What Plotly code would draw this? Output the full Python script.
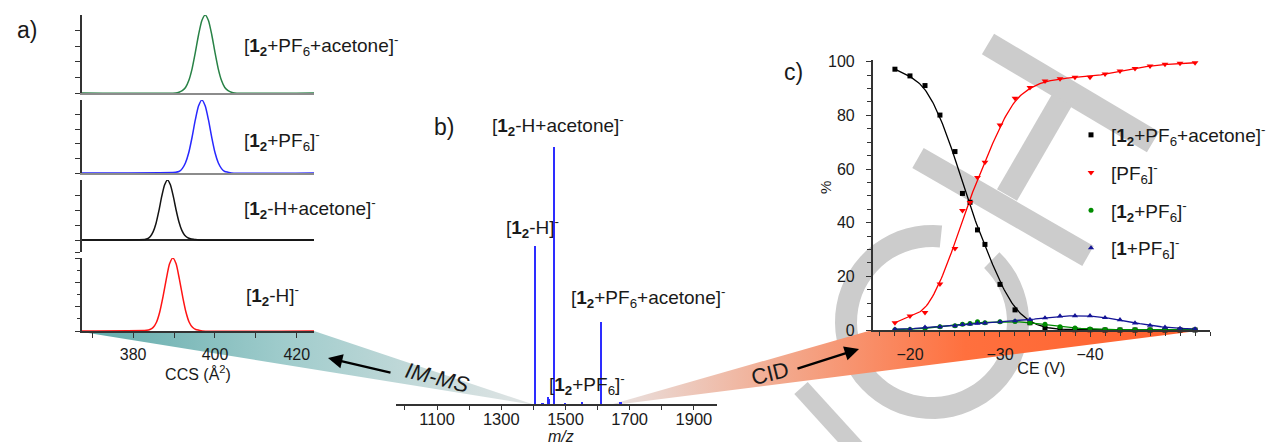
import math
import numpy as np
import plotly.graph_objects as go

# the page places the figure 8 px from the window's top-left corner
OFF = 8
WIN_W, WIN_H = 1277, 442
W, H = WIN_W - OFF, WIN_H - OFF
FONT = "Liberation Sans, Arial, sans-serif"
AX = "#333333"
TXT = "#1a1a1a"

# ------------------------------------------------------------------ data
# a) CCS distributions (normalised intensity)
ccs_green = [367.5, 390.4, 391.2, 392.0, 392.8, 393.6, 394.4, 395.2, 396.0, 396.8, 397.6,
             398.4, 399.2, 400.0, 400.8, 401.6, 402.4, 403.2, 404.0, 404.8, 424.2]
int_green = [0, 0, 0.01, 0.03, 0.07, 0.16, 0.31, 0.52, 0.75, 0.93, 1.0,
             0.93, 0.75, 0.52, 0.31, 0.16, 0.07, 0.03, 0.01, 0, 0]
ccs_blue = [367.5, 390.4, 391.2, 392.0, 392.8, 393.6, 394.4, 395.2, 396.0, 396.8,
            397.6, 398.4, 399.2, 400.0, 400.8, 401.6, 402.4, 403.2, 404.0, 424.2]
int_blue = [0, 0.01, 0.02, 0.06, 0.14, 0.28, 0.49, 0.73, 0.92, 1.0,
            0.92, 0.73, 0.49, 0.28, 0.14, 0.06, 0.02, 0.01, 0, 0]
ccs_black = [367.5, 382.8, 383.5, 384.2, 384.9, 385.6, 386.3, 387.0, 387.7, 388.4,
             389.1, 389.8, 390.5, 391.2, 391.9, 392.6, 393.3, 394.0, 395.0, 396.0, 424.2]
int_black = [0, 0.01, 0.02, 0.06, 0.14, 0.28, 0.49, 0.73, 0.92, 1.0,
             0.92, 0.73, 0.50, 0.30, 0.16, 0.08, 0.04, 0.02, 0.01, 0, 0]
ccs_red = [367.5, 383.3, 384.1, 384.9, 385.7, 386.5, 387.3, 388.1, 388.9, 389.7,
           390.5, 391.3, 392.1, 392.9, 393.7, 394.5, 395.3, 396.1, 396.9, 424.2]
int_red = [0, 0.01, 0.02, 0.05, 0.12, 0.26, 0.47, 0.71, 0.92, 1.0,
           0.92, 0.71, 0.47, 0.26, 0.12, 0.05, 0.02, 0.01, 0, 0]
ccs_ticks = [380, 400, 420]

# b) mass spectrum
mz = [1405, 1407, 1429, 1447, 1450, 1464, 1466, 1499, 1553, 1610, 1612, 1672]
ms_int = [61.5, 8.0, 0.5, 3.0, 2.0, 100.0, 2.3, 0.6, 0.8, 31.9, 4.0, 0.8]
mz_ticks = [1100, 1300, 1500, 1700, 1900]

# c) CID breakdown curves
ce = [-18.33, -20.0, -21.67, -23.33, -25.0, -25.83, -26.67, -27.5, -28.33, -30.0,
      -31.67, -33.33, -35.0, -36.67, -38.33, -40.0, -41.67, -43.33, -45.0, -46.67,
      -48.33, -50.0, -51.67]
pct_adduct = [97.2, 94.7, 91.1, 80.1, 66.5, 50.9, 47.6, 37.3, 31.9, 17.0,
              7.5, 2.7, 0.8, 0.2, 0.1, 0.1, 0, 0, 0, 0, 0, 0, 0]
pct_pf6 = [2.7, 5.2, 6.5, 17.1, 30.4, 44.5, 47.5, 56.8, 62.5, 76.4,
           86.4, 90.4, 92.8, 93.6, 94.2, 94.2, 95.4, 96.5, 97.5, 98.4, 99.0, 99.4, 99.6]
pct_12pf6 = [0.1, 0.2, 0.6, 1.2, 1.6, 2.1, 2.4, 3.1, 2.7, 3.1,
             3.2, 2.7, 2.1, 1.2, 0.7, 0.4, 0.2, 0.1, 0.1, 0.1, 0.1, 0.1, 0.1]
pct_1pf6 = [0.3, 0.3, 1.0, 1.2, 1.5, 2.0, 2.2, 2.5, 2.6, 3.0,
            3.4, 3.9, 4.5, 5.2, 5.3, 5.3, 4.6, 3.8, 2.6, 1.7, 1.0, 0.6, 0.4]
ce_ticks = [-20, -30, -40]
pct_ticks = [0, 20, 40, 60, 80, 100]

# labels
L_ADD = "[<b>1<sub>2</sub></b>+PF<sub>6</sub>+acetone]<sup>-</sup>"
L_12PF6 = "[<b>1<sub>2</sub></b>+PF<sub>6</sub>]<sup>-</sup>"
L_HACE = "[<b>1<sub>2</sub></b>-H+acetone]<sup>-</sup>"
L_H = "[<b>1<sub>2</sub></b>-H]<sup>-</sup>"
L_PF6 = "[PF<sub>6</sub>]<sup>-</sup>"
L_1PF6 = "[<b>1</b>+PF<sub>6</sub>]<sup>-</sup>"


# ------------------------------------------------------------------ helpers (window pixels -> paper)
def px(x):
    return (x - OFF) / W


def py(y):
    return 1 - (y - OFF) / H


def xd(p0, p1):
    return [px(p0), px(p1)]


def yd(top, bottom):
    return [py(bottom), py(top)]


def fit_curve(x, y, bw=1.1, n=240):
    """local-linear smoother through the measured points (the fitted line of panel c)"""
    x = np.asarray(x, float)
    y = np.asarray(y, float)
    g = np.linspace(x.max(), x.min(), n)
    d = x[None, :] - g[:, None]
    w = np.exp(-0.5 * (d / bw) ** 2)
    s0, s1, s2 = w.sum(1), (w * d).sum(1), (w * d * d).sum(1)
    t0, t1 = (w * y).sum(1), (w * d * y).sum(1)
    return g, (s2 * t0 - s1 * t1) / (s0 * s2 - s1 * s1)


fig = go.Figure()

# ---------------------------------------------------------------- decorations
fig.add_trace(go.Scatter(
    x=[82, 314, 535, 82], y=[331, 331, 405, 332], fill="toself", mode="none",
    fillgradient=dict(type="horizontal",
                      colorscale=[[0, "rgb(96,170,170)"], [0.45, "rgb(160,204,204)"],
                                  [1, "rgb(226,229,229)"]]),
    hoverinfo="skip", showlegend=False, xaxis="x", yaxis="y"))
fig.add_trace(go.Scatter(
    x=[606, 872, 1205, 606], y=[406, 330, 330, 406], fill="toself", mode="none",
    fillgradient=dict(type="horizontal",
                      colorscale=[[0, "rgb(232,228,228)"], [0.3, "rgb(243,168,140)"],
                                  [0.6, "rgb(255,112,62)"], [1, "rgb(255,96,44)"]]),
    hoverinfo="skip", showlegend=False, xaxis="x", yaxis="y"))

WM = "rgb(204,204,204)"


def bar_path(p0, p1, w):
    dx, dy = p1[0] - p0[0], p1[1] - p0[1]
    L = math.hypot(dx, dy)
    nx, ny = -dy / L * w / 2, dx / L * w / 2
    pts = [(p0[0] + nx, p0[1] + ny), (p1[0] + nx, p1[1] + ny),
           (p1[0] - nx, p1[1] - ny), (p0[0] - nx, p0[1] - ny)]
    return "M " + " L ".join(f"{a:.1f},{b:.1f}" for a, b in pts) + " Z"


def ring_path(cx, cy, ro, ri, a0, a1, n=60):
    outer = [(cx + ro * math.cos(math.radians(a0 + (a1 - a0) * i / n)),
              cy - ro * math.sin(math.radians(a0 + (a1 - a0) * i / n))) for i in range(n + 1)]
    inner = [(cx + ri * math.cos(math.radians(a1 - (a1 - a0) * i / n)),
              cy - ri * math.sin(math.radians(a1 - (a1 - a0) * i / n))) for i in range(n + 1)]
    pts = outer + inner
    return "M " + " L ".join(f"{a:.1f},{b:.1f}" for a, b in pts) + " Z"


shapes = []
for path in [bar_path((988, 44), (1153, 142), 24),
             bar_path((918, 158), (1088, 256), 23),
             bar_path((1007, 195), (1062, 100), 23),
             bar_path((801, 388), (862, 455), 18),
             ring_path(932, 322, 97, 75, 84, 406)]:
    shapes.append(dict(type="path", path=path, xref="x", yref="y", fillcolor=WM,
                       line=dict(width=0), layer="below"))

# ---------------------------------------------------------------- panel a
a_sets = [
    (ccs_green, int_green, "rgb(40,130,70)", "2"),
    (ccs_blue, int_blue, "rgb(40,40,255)", "3"),
    (ccs_black, int_black, "rgb(20,20,20)", "4"),
    (ccs_red, int_red, "rgb(255,20,20)", "5"),
]
for xs, ys, col, k in a_sets:
    fig.add_trace(go.Scatter(x=xs, y=ys, mode="lines",
                             line=dict(color=col, width=1.5, shape="spline", smoothing=0.6),
                             hoverinfo="skip", showlegend=False, xaxis="x" + k, yaxis="y" + k))

# ---------------------------------------------------------------- panel b
fig.add_trace(go.Bar(x=mz, y=ms_int, width=5, marker=dict(color="rgb(45,45,255)", line=dict(width=0)),
                     showlegend=False, hoverinfo="skip", xaxis="x6", yaxis="y6"))

# ---------------------------------------------------------------- panel c
c_sets = [
    (pct_adduct, "black", "square", 5, L_ADD),
    (pct_pf6, "rgb(255,0,0)", "triangle-down", 6, L_PF6),
    (pct_12pf6, "rgb(0,140,0)", "circle", 5, L_12PF6),
    (pct_1pf6, "rgb(20,20,150)", "triangle-up", 5.5, L_1PF6),
]
for ys, col, sym, sz, name in c_sets:
    gx, gy = fit_curve(ce, ys)
    fig.add_trace(go.Scatter(x=gx, y=gy, mode="lines", line=dict(color=col, width=1.3),
                             hoverinfo="skip", showlegend=False, xaxis="x7", yaxis="y7"))
for i, (ys, col, sym, sz, name) in enumerate(c_sets):
    fig.add_trace(go.Scatter(x=ce, y=ys, mode="markers", name=name,
                             marker=dict(color=col, symbol=sym, size=sz, line=dict(width=0)),
                             cliponaxis=False, legendgroup=f"g{i}",
                             xaxis="x7", yaxis="y7"))

# ---------------------------------------------------------------- layout
hidden = dict(visible=False, showgrid=False, zeroline=False, fixedrange=True, automargin=False)
layout = dict(
    template="none",
    width=W, height=H, margin=dict(l=0, r=0, t=0, b=0, pad=0, autoexpand=False),
    paper_bgcolor="white", plot_bgcolor="rgba(0,0,0,0)",
    font=dict(family=FONT, color=TXT, size=15),
    xaxis=dict(domain=[0, 1], range=[OFF, WIN_W], **hidden),
    yaxis=dict(domain=[0, 1], range=[WIN_H, OFF], **hidden),
    shapes=shapes,
    bargap=0,
    showlegend=True,
)

a_xdom = xd(82, 314)
a_ydoms = {"2": yd(15, 93), "3": yd(100, 173), "4": yd(180, 252), "5": yd(258, 331)}
for k, dom in a_ydoms.items():
    xa = dict(domain=a_xdom, range=[367.5, 424.2], anchor="y" + k, showgrid=False, zeroline=False,
              fixedrange=True, layer="below traces", automargin=False)
    ya = dict(domain=dom, anchor="x" + k, showgrid=False, fixedrange=True, showticklabels=False,
              showline=True, linecolor=AX, linewidth=1.5, ticks="outside", ticklen=5,
              tickwidth=1.3, tickcolor=AX, zeroline=False, automargin=False)
    if k in ("2", "3"):
        xa.update(showline=True, linecolor="rgb(140,140,140)", linewidth=1.5, showticklabels=False,
                  ticks="")
        ya.update(range=[0, 1], tickvals=[0, 0.2, 0.4, 0.6, 0.8])
    elif k == "4":
        xa.update(showline=False, showticklabels=False, ticks="")
        ya.update(range=[-0.2, 1], tickvals=[-0.2, 0, 0.25, 0.5, 0.75],
                  zeroline=True, zerolinecolor="rgb(40,40,40)", zerolinewidth=1.5)
    else:
        xa.update(showline=True, linecolor=AX, linewidth=1.5, ticks="outside", ticklen=5,
                  tickwidth=1.3, tickcolor=AX, tickvals=ccs_ticks,
                  minor=dict(tick0=370, dtick=10, ticks="outside", ticklen=5, tickwidth=1.3,
                             tickcolor=AX),
                  tickfont=dict(size=16, color=TXT), ticklabelstandoff=3,
                  title=dict(text="CCS (Å<sup>2</sup>)", font=dict(size=16, color=TXT), standoff=3))
        ya.update(range=[0, 1], dtick=1 / 3, tick0=0,
                  minor=dict(dtick=1 / 6, tick0=0, ticks="outside", ticklen=3, tickcolor=AX))
    layout["xaxis" + k] = xa
    layout["yaxis" + k] = ya

layout["xaxis6"] = dict(domain=xd(396, 717), range=[972, 1972], anchor="y6", showgrid=False,
                        zeroline=False, fixedrange=True, showline=True, linecolor=AX, linewidth=1.5,
                        ticks="outside", ticklen=4, tickwidth=1.2, tickcolor=AX, tickvals=mz_ticks,
                        minor=dict(tick0=1000, dtick=100, ticks="outside", ticklen=4, tickcolor=AX),
                        tickfont=dict(size=16.5, color=TXT), ticklabelstandoff=-5, automargin=False)
layout["yaxis6"] = dict(domain=yd(146.7, 404), range=[0, 100], anchor="x6", visible=False,
                        fixedrange=True, automargin=False)

layout["xaxis7"] = dict(domain=xd(872.7, 1210), range=[-15.86, -53.33], anchor="y7", showgrid=False,
                        zeroline=False, fixedrange=True, showline=True, linecolor=AX, linewidth=1.5,
                        ticks="outside", ticklen=5, tickwidth=1.3, tickcolor=AX, tickvals=ce_ticks,
                        minor=dict(tick0=-20, dtick=5 / 3, ticks="outside", ticklen=4, tickcolor=AX),
                        tickfont=dict(size=16, color=TXT), ticklabelstandoff=4, automargin=False,
                        title=dict(text="CE (V)", font=dict(size=16, color=TXT), standoff=1))
layout["yaxis7"] = dict(domain=yd(60, 330), range=[0, 100.63], anchor="x7", showgrid=False,
                        zeroline=False, fixedrange=True, showline=True, linecolor=AX, linewidth=1.5,
                        ticks="outside", ticklen=5, tickwidth=1.3, tickcolor=AX, tickvals=pct_ticks,
                        minor=dict(tick0=0, dtick=5, ticks="outside", ticklen=4, tickcolor=AX),
                        tickfont=dict(size=16, color=TXT), ticklabelstandoff=8, automargin=False)

layout["legend"] = dict(x=px(1095 - 24), xanchor="left", y=py(116), yanchor="top",
                        font=dict(size=19, color=TXT, family=FONT), bgcolor="rgba(0,0,0,0)",
                        tracegroupgap=10, itemwidth=30, traceorder="grouped", borderwidth=0)

# ---------------------------------------------------------------- text annotations
ann = []


def label(text, x, y, size=19, anchor="left", **kw):
    ann.append(dict(text=text, x=px(x), y=py(y), xref="paper", yref="paper", showarrow=False,
                    xanchor=anchor, yanchor="middle", font=dict(size=size, color=TXT, family=FONT),
                    **kw))


label("a)", 15, 30, size=23)
label("b)", 432, 127, size=23)
label("c)", 782, 72, size=23)

label(L_ADD, 242, 46)
label(L_12PF6, 242, 141)
label(L_HACE, 242, 209)
label(L_H, 244, 295)

label(L_HACE, 490, 125)
label(L_H, 504, 227)
label(L_ADD, 569, 297)
label(L_12PF6, 547, 384)

label("<i>IM-MS</i>", 437, 377, size=22, anchor="center", textangle=14)
label("CID", 770, 373, size=22, anchor="center", textangle=-14)
label("%", 825, 188, size=15, anchor="center", textangle=-90)
label("<i>m/z</i>", 561, 436, size=16, anchor="center")

# arrows
for tip, tail in [((328, 358), (392, 373)), ((859, 349), (796, 369))]:
    ann.append(dict(text="", x=px(tip[0]), y=py(tip[1]), xref="paper", yref="paper",
                    showarrow=True, arrowhead=2, arrowsize=1.2, arrowwidth=2.4, arrowcolor="black",
                    ax=tail[0] - tip[0], ay=tail[1] - tip[1], standoff=0, startstandoff=0))

layout["annotations"] = ann
fig.update_layout(**layout)

fig.write_html("out.html")
